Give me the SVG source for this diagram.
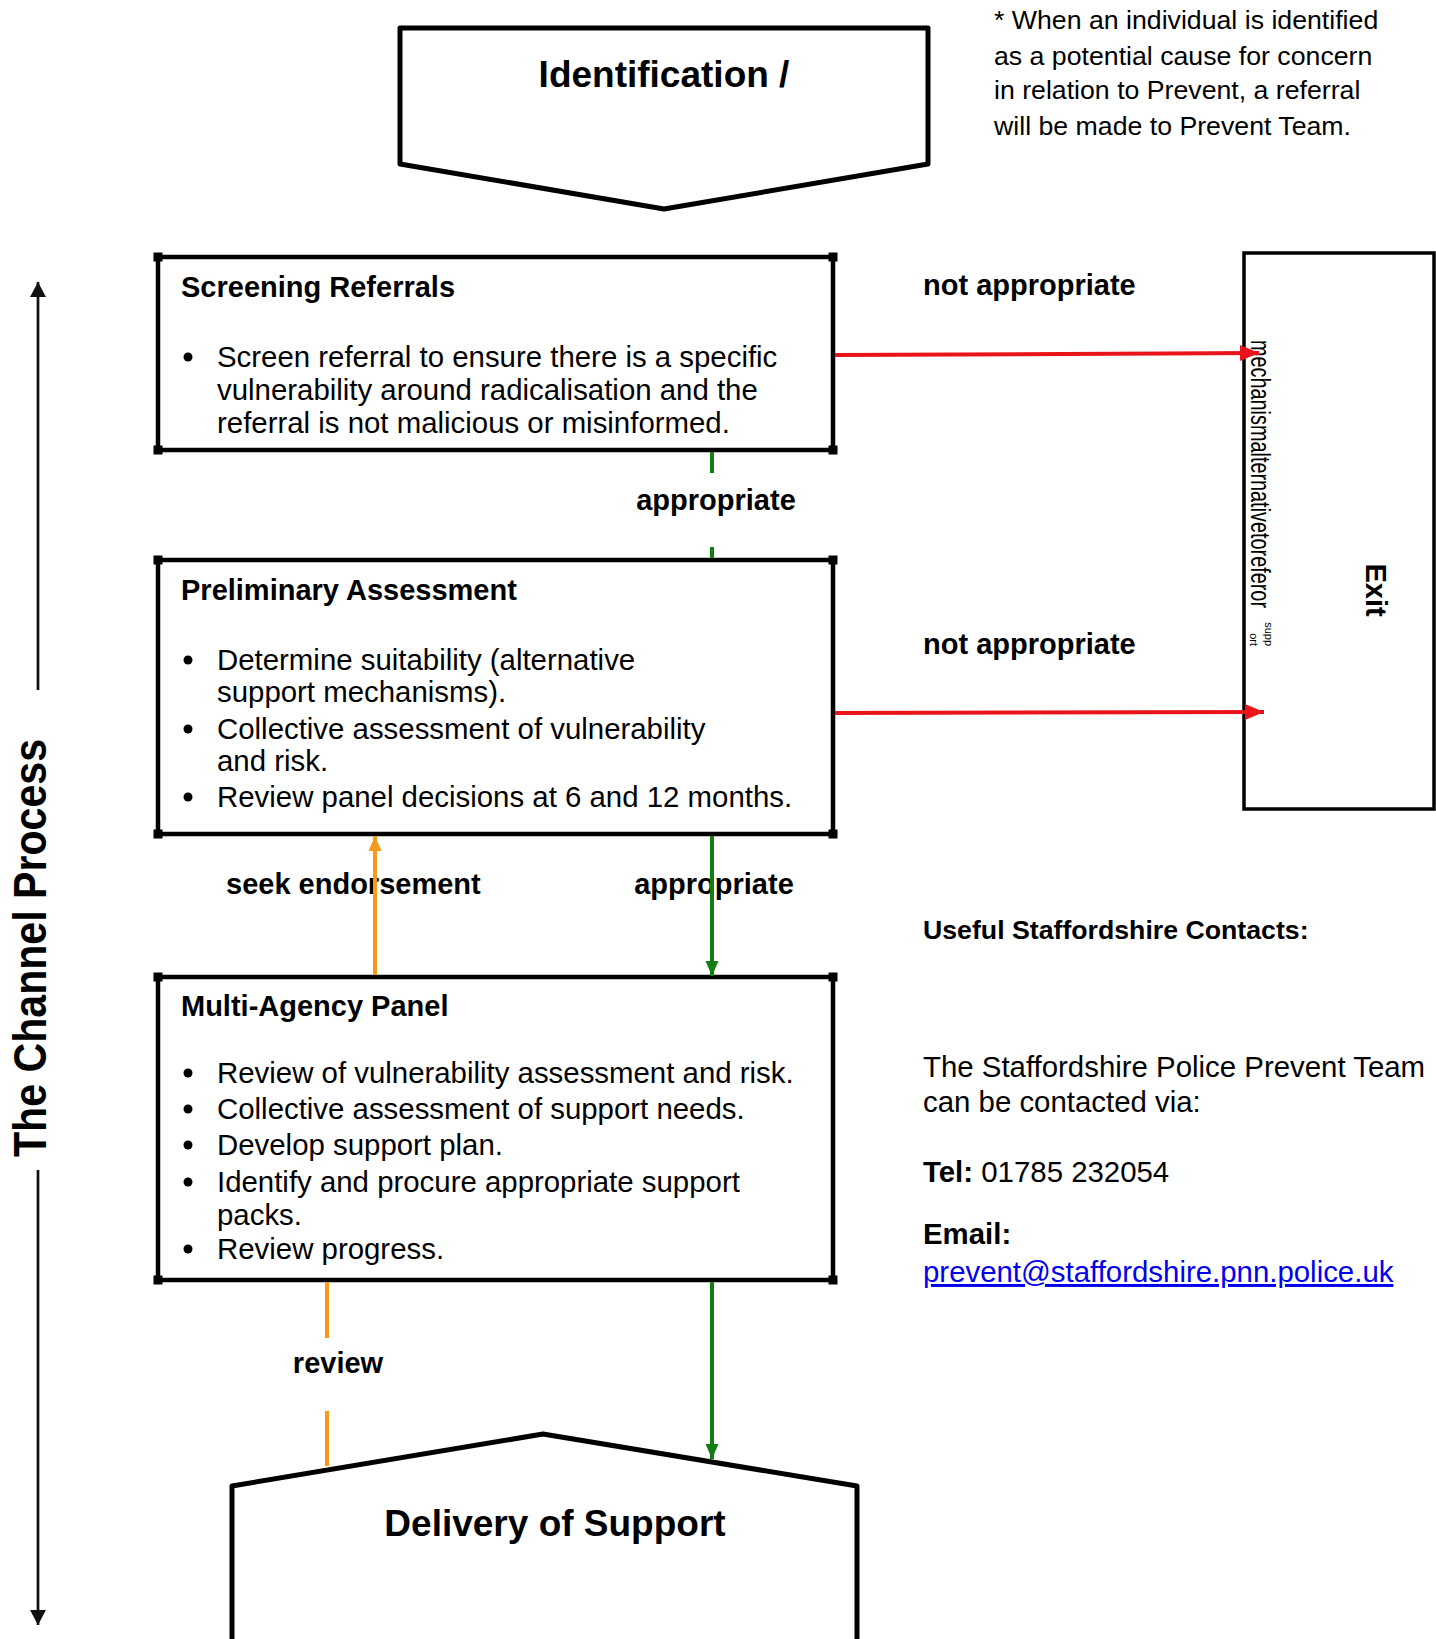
<svg xmlns="http://www.w3.org/2000/svg" width="1436" height="1639" viewBox="0 0 1436 1639">
<style>
  text { font-family: "Liberation Sans", Arial, sans-serif; fill: #000; }
  .b { font-weight: bold; }
  .t { font-size: 29.4px; }
  .tb { font-size: 29px; font-weight: bold; }
  .h { font-size: 37px; font-weight: bold; }
  .note { font-size: 26.7px; }
  .box { fill: #fff; stroke: #000; stroke-width: 4.5; }
  .shape { fill: #fff; stroke: #000; stroke-width: 5; stroke-linejoin: round; }
  .red { stroke: #e8141a; stroke-width: 4; fill: none; }
  .green { stroke: #127d12; stroke-width: 4; fill: none; }
  .orange { stroke: #f49c18; stroke-width: 4; fill: none; }
  .blk { stroke: #111; stroke-width: 2.7; fill: none; }
  .link { fill: #0000ee; text-decoration: underline; }
</style>
<defs>
  <marker id="ar" markerUnits="userSpaceOnUse" markerWidth="20" markerHeight="18" refX="19" refY="9" orient="auto">
    <path d="M0,1 L19,9 L0,17 Z" fill="#e8141a"/>
  </marker>
  <marker id="ag" markerUnits="userSpaceOnUse" markerWidth="16" markerHeight="14" refX="15" refY="7" orient="auto">
    <path d="M0,0.5 L15,7 L0,13.5 Z" fill="#127d12"/>
  </marker>
  <marker id="ao" markerUnits="userSpaceOnUse" markerWidth="16" markerHeight="14" refX="15" refY="7" orient="auto">
    <path d="M0,0.5 L15,7 L0,13.5 Z" fill="#f49c18"/>
  </marker>
  <marker id="ab" markerUnits="userSpaceOnUse" markerWidth="16" markerHeight="18" refX="15" refY="9" orient="auto">
    <path d="M0,1 L15,9 L0,17 Z" fill="#111"/>
  </marker>
  <g id="corners">
    <rect x="-4.5" y="-4.5" width="9" height="9" fill="#000"/>
  </g>
</defs>

<!-- Side arrow: The Channel Process -->
<g id="channel-process">
  <line class="blk" x1="38" y1="690" x2="38" y2="282" marker-end="url(#ab)"/>
  <line class="blk" x1="38" y1="1170" x2="38" y2="1625" marker-end="url(#ab)"/>
  <text class="b" font-size="46" text-anchor="middle" textLength="418" lengthAdjust="spacingAndGlyphs" transform="translate(46,948) rotate(-90)">The Channel Process</text>
</g>

<!-- Note -->
<g id="note">
  <text class="note" x="994" y="29">* When an individual is identified</text>
  <text class="note" x="994" y="64.5">as a potential cause for concern</text>
  <text class="note" x="994" y="99">in relation to Prevent, a referral</text>
  <text class="note" x="994" y="135">will be made to Prevent Team.</text>
</g>

<!-- Identification -->
<g id="identification">
  <path class="shape" d="M400,28 L928,28 L928,164 L664,209 L400,164 Z"/>
  <text class="h" x="664" y="87" text-anchor="middle">Identification /</text>
</g>

<!-- Screening Referrals -->
<g id="screening">
  <rect class="box" x="158" y="257" width="675" height="193"/>
  <use href="#corners" x="158" y="257"/><use href="#corners" x="833" y="257"/>
  <use href="#corners" x="158" y="450"/><use href="#corners" x="833" y="450"/>
  <text class="tb" x="181" y="297">Screening Referrals</text>
  <circle cx="188" cy="357" r="4.5"/>
  <text class="t" x="217" y="367">Screen referral to ensure there is a specific</text>
  <text class="t" x="217" y="400">vulnerability around radicalisation and the</text>
  <text class="t" x="217" y="433">referral is not malicious or misinformed.</text>
</g>

<!-- Preliminary Assessment -->
<g id="preliminary">
  <rect class="box" x="158" y="560" width="675" height="274"/>
  <use href="#corners" x="158" y="560"/><use href="#corners" x="833" y="560"/>
  <use href="#corners" x="158" y="834"/><use href="#corners" x="833" y="834"/>
  <text class="tb" x="181" y="600">Preliminary Assessment</text>
  <circle cx="188" cy="660" r="4.5"/>
  <text class="t" x="217" y="670">Determine suitability (alternative</text>
  <text class="t" x="217" y="702">support mechanisms).</text>
  <circle cx="188" cy="729" r="4.5"/>
  <text class="t" x="217" y="739">Collective assessment of vulnerability</text>
  <text class="t" x="217" y="771">and risk.</text>
  <circle cx="188" cy="797" r="4.5"/>
  <text class="t" x="217" y="807">Review panel decisions at 6 and 12 months.</text>
</g>

<!-- Multi-Agency Panel -->
<g id="multi-agency">
  <rect class="box" x="158" y="977" width="675" height="303"/>
  <use href="#corners" x="158" y="977"/><use href="#corners" x="833" y="977"/>
  <use href="#corners" x="158" y="1280"/><use href="#corners" x="833" y="1280"/>
  <text class="tb" x="181" y="1016">Multi-Agency Panel</text>
  <circle cx="188" cy="1073" r="4.5"/>
  <text class="t" x="217" y="1083">Review of vulnerability assessment and risk.</text>
  <circle cx="188" cy="1109" r="4.5"/>
  <text class="t" x="217" y="1119">Collective assessment of support needs.</text>
  <circle cx="188" cy="1145" r="4.5"/>
  <text class="t" x="217" y="1155">Develop support plan.</text>
  <circle cx="188" cy="1182" r="4.5"/>
  <text class="t" x="217" y="1192">Identify and procure appropriate support</text>
  <text class="t" x="217" y="1225">packs.</text>
  <circle cx="188" cy="1249" r="4.5"/>
  <text class="t" x="217" y="1259">Review progress.</text>
</g>

<!-- Delivery of Support -->
<g id="delivery">
  <path class="shape" d="M232,1645 L232,1486 L543,1434 L857,1486 L857,1645"/>
  <text class="h" x="555" y="1536" text-anchor="middle">Delivery of Support</text>
</g>

<!-- Exit -->
<g id="exit">
  <rect x="1244" y="253" width="190" height="556" fill="#fff" stroke="#000" stroke-width="3.5"/>
  <text class="b" font-size="29" text-anchor="middle" transform="translate(1366,590) rotate(90)">Exit</text>
  <text font-size="27" textLength="268" lengthAdjust="spacingAndGlyphs" transform="translate(1251,340) rotate(90)">mechanismalternativetoreferor</text>
  <text font-size="11" text-anchor="end" transform="translate(1265,646) rotate(90)">supp</text>
  <text font-size="11" text-anchor="end" transform="translate(1250,646) rotate(90)">ort</text>
</g>

<!-- Contacts -->
<g id="contacts">
  <text class="note b" x="923" y="939">Useful Staffordshire Contacts:</text>
  <text class="t" x="923" y="1077">The Staffordshire Police Prevent Team</text>
  <text class="t" x="923" y="1112">can be contacted via:</text>
  <text class="t" x="923" y="1182"><tspan class="b">Tel:</tspan> 01785 232054</text>
  <text class="t b" x="923" y="1244">Email:</text>
  <text class="t link" x="923" y="1282">prevent@staffordshire.pnn.police.uk</text>
</g>

<!-- Connector labels -->
<g id="labels">
  <text class="tb" x="923" y="295">not appropriate</text>
  <text class="tb" x="923" y="654">not appropriate</text>
  <text class="tb" x="716" y="510" text-anchor="middle">appropriate</text>
  <text class="tb" x="226" y="894">seek endorsement</text>
  <text class="tb" x="714" y="894" text-anchor="middle">appropriate</text>
  <text class="tb" x="338" y="1373" text-anchor="middle">review</text>
</g>

<!-- Connectors -->
<g id="connectors">
  <line class="red" x1="835" y1="355" x2="1259" y2="353" marker-end="url(#ar)"/>
  <line class="red" x1="835" y1="713" x2="1264" y2="712" marker-end="url(#ar)"/>
  <line class="green" x1="712" y1="452" x2="712" y2="473"/>
  <line class="green" x1="712" y1="547" x2="712" y2="558"/>
  <line class="green" x1="712" y1="836" x2="712" y2="976" marker-end="url(#ag)"/>
  <line class="orange" x1="375" y1="975" x2="375" y2="836" marker-end="url(#ao)"/>
  <line class="orange" x1="327" y1="1282" x2="327" y2="1338"/>
  <line class="orange" x1="327" y1="1411" x2="327" y2="1466"/>
  <line class="green" x1="712" y1="1282" x2="712" y2="1459" marker-end="url(#ag)"/>
</g>
</svg>
